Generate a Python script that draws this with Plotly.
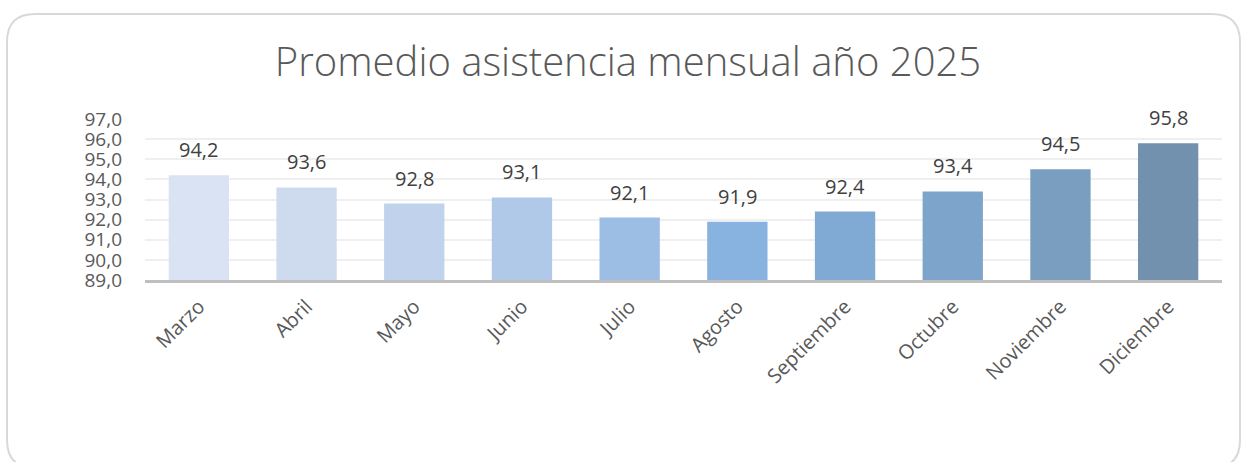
import plotly.graph_objects as go

# Monthly average attendance, 2025
meses = ["Marzo", "Abril", "Mayo", "Junio", "Julio", "Agosto",
         "Septiembre", "Octubre", "Noviembre", "Diciembre"]
asistencia = [94.2, 93.6, 92.8, 93.1, 92.1, 91.9, 92.4, 93.4, 94.5, 95.8]
colores = ["#DAE3F3", "#CEDBEF", "#C1D3EC", "#B0C9E8", "#9DBEE4",
           "#88B2DF", "#80A9D3", "#7DA4CA", "#799EBF", "#7191AE"]
y_ticks = [89, 90, 91, 92, 93, 94, 95, 96, 97]

W, H = 1242, 462
ML, MR, MT, MB = 145, 20, 119, 182
PW, PH = W - ML - MR, H - MT - MB


def px(x):
    return (x - ML) / PW


def py(y):
    return (H - MB - y) / PH


def coma(v):
    return f"{v:.1f}".replace(".", ",")


fig = go.Figure()
fig.add_trace(go.Bar(
    x=meses, y=asistencia, marker=dict(color=colores, line=dict(width=0)),
    width=0.56, hoverinfo="x+y",
))

# Value labels above each bar
for m, v in zip(meses, asistencia):
    fig.add_annotation(
        x=m, y=v, text=coma(v), showarrow=False,
        yanchor="bottom", yshift=10,
        font=dict(family="Open Sans", size=20, color="#404040"),
    )

# Rounded chart frame
x0, x1, y0, y1, r = 7, 1240, 14, 468, 28
path = (f"M {px(x0 + r)},{py(y0)} L {px(x1 - r)},{py(y0)} "
        f"Q {px(x1)},{py(y0)} {px(x1)},{py(y0 + r)} "
        f"L {px(x1)},{py(y1 - r)} Q {px(x1)},{py(y1)} {px(x1 - r)},{py(y1)} "
        f"L {px(x0 + r)},{py(y1)} Q {px(x0)},{py(y1)} {px(x0)},{py(y1 - r)} "
        f"L {px(x0)},{py(y0 + r)} Q {px(x0)},{py(y0)} {px(x0 + r)},{py(y0)} Z")
fig.add_shape(type="path", path=path, xref="paper", yref="paper",
              line=dict(color="#D9D9D9", width=2), layer="below")

fig.update_layout(
    width=W, height=H,
    margin=dict(l=ML, r=MR, t=MT, b=MB),
    paper_bgcolor="white", plot_bgcolor="white",
    separators=",.",
    showlegend=False,
    title=dict(
        text="Promedio asistencia mensual año 2025",
        x=628 / W, xanchor="center", y=1 - 62 / H, yanchor="middle",
        font=dict(family="Open Sans", size=40, color="#595959", weight=300),
    ),
    font=dict(family="Open Sans", color="#595959"),
)
fig.update_yaxes(
    range=[89, 97], tickvals=y_ticks, ticktext=[coma(v) for v in y_ticks],
    showgrid=True, gridcolor="#EFEFEF", gridwidth=2,
    zeroline=False, showline=False, ticks="", ticklabelstandoff=22,
    tickfont=dict(family="Open Sans", size=19, color="#595959"),
)
fig.update_xaxes(
    showline=True, linecolor="#BFBFBF", linewidth=3, ticks="",
    tickangle=-45, showgrid=False, ticklabelstandoff=4,
    tickfont=dict(family="Open Sans", size=20, color="#595959"),
)

fig.write_html("out.html")
